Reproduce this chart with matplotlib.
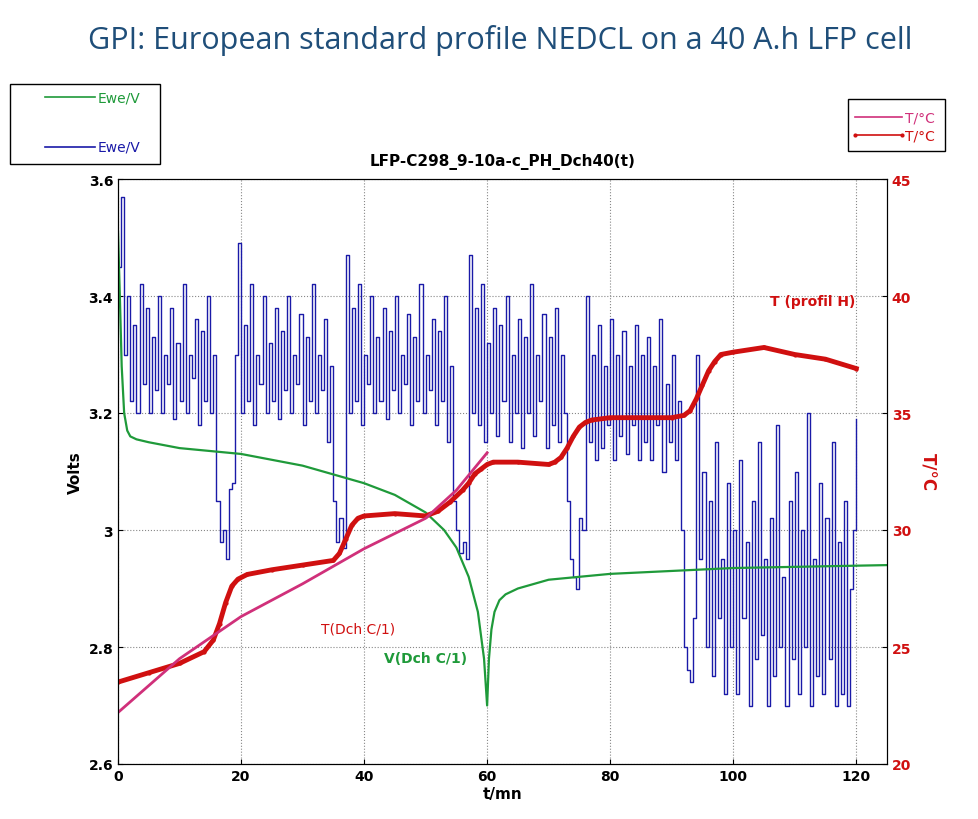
import numpy as np
import matplotlib
matplotlib.use("Agg")
import matplotlib.pyplot as plt
from matplotlib.lines import Line2D
from matplotlib.patches import Rectangle

# Blue profile voltage, every 0.5 min from 0 to 120
prof_v = [3.45,3.57,3.30,3.40,3.22,3.35,3.20,3.42,3.25,3.38,
 3.20,3.33,3.24,3.40,3.20,3.30,3.25,3.38,3.19,3.32,
 3.22,3.42,3.20,3.30,3.26,3.36,3.18,3.34,3.22,3.40,
 3.20,3.30,3.05,2.98,3.00,2.95,3.07,3.08,3.30,3.49,
 3.20,3.35,3.22,3.42,3.18,3.30,3.25,3.40,3.20,3.32,
 3.22,3.38,3.19,3.34,3.24,3.40,3.20,3.30,3.25,3.37,
 3.18,3.33,3.22,3.42,3.20,3.30,3.24,3.36,3.15,3.28,
 3.05,2.98,3.02,2.97,3.47,3.20,3.38,3.22,3.42,3.18,
 3.30,3.25,3.40,3.20,3.33,3.22,3.38,3.19,3.34,3.24,
 3.40,3.20,3.30,3.25,3.37,3.18,3.33,3.22,3.42,3.20,
 3.30,3.24,3.36,3.18,3.34,3.22,3.40,3.15,3.28,3.05,
 3.00,2.96,2.98,2.95,3.47,3.20,3.38,3.18,3.42,3.15,
 3.32,3.20,3.38,3.16,3.35,3.22,3.40,3.15,3.30,3.20,
 3.36,3.14,3.33,3.20,3.42,3.16,3.30,3.22,3.37,3.14,
 3.33,3.18,3.38,3.15,3.30,3.20,3.05,2.95,2.92,2.90,
 3.02,3.00,3.40,3.15,3.30,3.12,3.35,3.14,3.28,3.18,
 3.36,3.12,3.30,3.16,3.34,3.13,3.28,3.18,3.35,3.12,
 3.30,3.15,3.33,3.12,3.28,3.18,3.36,3.10,3.25,3.15,
 3.30,3.12,3.22,3.00,2.80,2.76,2.74,2.85,3.30,2.95,
 3.10,2.80,3.05,2.75,3.15,2.85,2.95,2.72,3.08,2.80,
 3.00,2.72,3.12,2.85,2.98,2.70,3.05,2.78,3.15,2.82,
 2.95,2.70,3.02,2.75,3.18,2.80,2.92,2.70,3.05,2.78,
 3.10,2.72,3.00,2.80,3.20,2.70,2.95,2.75,3.08,2.72,
 3.02,2.78,3.15,2.70,2.98,2.72,3.05,2.70,2.90,3.00,
 3.19]
prof_t = [i*0.5 for i in range(len(prof_v))]

dch_t = [0,0.3,0.6,1,1.5,2,3,5,10,20,30,40,45,50,53,55,57,58.5,59.5,60,60.3,60.7,61.2,62,63,65,70,80,100,125]
dch_v = [3.51,3.40,3.28,3.20,3.17,3.16,3.155,3.15,3.14,3.13,3.11,3.08,3.06,3.03,3.0,2.97,2.92,2.86,2.78,2.70,2.78,2.83,2.86,2.88,2.89,2.90,2.915,2.925,2.935,2.94]

tdch_t = [0,10,20,30,40,50,55,60]
tdch_T = [22.2,24.5,26.3,27.7,29.2,30.5,31.7,33.3]

th_t = [0,5,10,14,15.5,16.5,17.5,18.5,19.5,21,25,30,35,36,37,38,39,40,45,50,52,54,56,57,58,59,60,61,65,70,71,72,73,74,75,76,77,80,90,92,93,94,95,96,97,98,100,105,110,115,120]
th_T = [23.5,23.9,24.3,24.8,25.3,26.0,26.9,27.6,27.9,28.1,28.3,28.5,28.7,29.0,29.6,30.2,30.5,30.6,30.7,30.6,30.8,31.2,31.7,32.0,32.4,32.6,32.8,32.9,32.9,32.8,32.9,33.1,33.5,34.0,34.4,34.6,34.7,34.8,34.8,34.9,35.1,35.6,36.2,36.8,37.2,37.5,37.6,37.8,37.5,37.3,36.9]

fig = plt.figure(figsize=(9.79, 8.2), dpi=100)
ax = fig.add_axes([118/979, 1-765/820, (887-118)/979, (765-180)/820])
ax2 = ax.twinx()

ax.plot(prof_t, prof_v, color="#1a1aa8", lw=1.0, drawstyle="steps-post")
ax.plot(dch_t, dch_v, color="#1f9a3a", lw=1.6)
ax2.plot(th_t, th_T, color="#d01010", lw=3.5, marker=".", ms=4)
ax2.plot(tdch_t, tdch_T, color="#d0307a", lw=2)

ax.set_xlim(0, 125)
ax.set_ylim(2.6, 3.6)
ax2.set_ylim(20, 45)
ax.set_xticks([0, 20, 40, 60, 80, 100, 120])
ax.set_yticks([2.6, 2.8, 3.0, 3.2, 3.4, 3.6])
ax.set_yticklabels(["2.6", "2.8", "3", "3.2", "3.4", "3.6"])
ax2.set_yticks([20, 25, 30, 35, 40, 45])
for a in (ax, ax2):
    a.tick_params(labelsize=10, direction="in")
    for l in a.get_xticklabels() + a.get_yticklabels():
        l.set_fontweight("bold")
for l in ax2.get_yticklabels():
    l.set_color("#d01010")
ax.grid(True, ls=":", color="#888888", lw=0.8)
ax.set_xlabel("t/mn", fontweight="bold", fontsize=11, labelpad=2)
ax.set_ylabel("Volts", fontweight="bold", fontsize=11)
ax2.set_ylabel("T/°C", fontweight="bold", fontsize=12, color="#d01010", rotation=-90, labelpad=18)
ax.set_title("LFP-C298_9-10a-c_PH_Dch40(t)", fontweight="bold", fontsize=11, pad=10)

ax.text(39, 2.825, "T(Dch C/1)", color="#d01010", fontsize=10, ha="center")
ax.text(50, 2.775, "V(Dch C/1)", color="#1f9a3a", fontsize=10, ha="center", fontweight="bold")
ax2.text(113, 39.6, "T (profil H)", color="#d01010", fontsize=10, ha="center", fontweight="bold")

fig.text(500/979, 1-40/820, "GPI: European standard profile NEDCL on a 40 A.h LFP cell",
         ha="center", va="center", fontsize=22, color="#1F4E79", family="Open Sans")

def fx(p): return p/979
def fy(p): return 1-p/820
fig.add_artist(Rectangle((fx(10), fy(165)), fx(150), 80/820, transform=fig.transFigure, fill=False, lw=1, color="k"))
fig.add_artist(Line2D([fx(45), fx(95)], [fy(98), fy(98)], transform=fig.transFigure, color="#1f9a3a", lw=1.2))
fig.text(fx(98), fy(98), "Ewe/V", color="#1f9a3a", fontsize=10, va="center")
fig.add_artist(Line2D([fx(45), fx(95)], [fy(148), fy(148)], transform=fig.transFigure, color="#1a1aa8", lw=1.2))
fig.text(fx(98), fy(148), "Ewe/V", color="#1a1aa8", fontsize=10, va="center")
fig.add_artist(Rectangle((fx(848), fy(152)), fx(97), 52/820, transform=fig.transFigure, fill=False, lw=1, color="k"))
fig.add_artist(Line2D([fx(855), fx(902)], [fy(118), fy(118)], transform=fig.transFigure, color="#d0307a", lw=1.2))
fig.text(fx(905), fy(118), "T/°C", color="#d0307a", fontsize=10, va="center")
fig.add_artist(Line2D([fx(855), fx(902)], [fy(136), fy(136)], transform=fig.transFigure, color="#d01010", lw=1.2, marker=".", ms=4))
fig.text(fx(905), fy(136), "T/°C", color="#d01010", fontsize=10, va="center")

fig.savefig("out.png", dpi=100)
